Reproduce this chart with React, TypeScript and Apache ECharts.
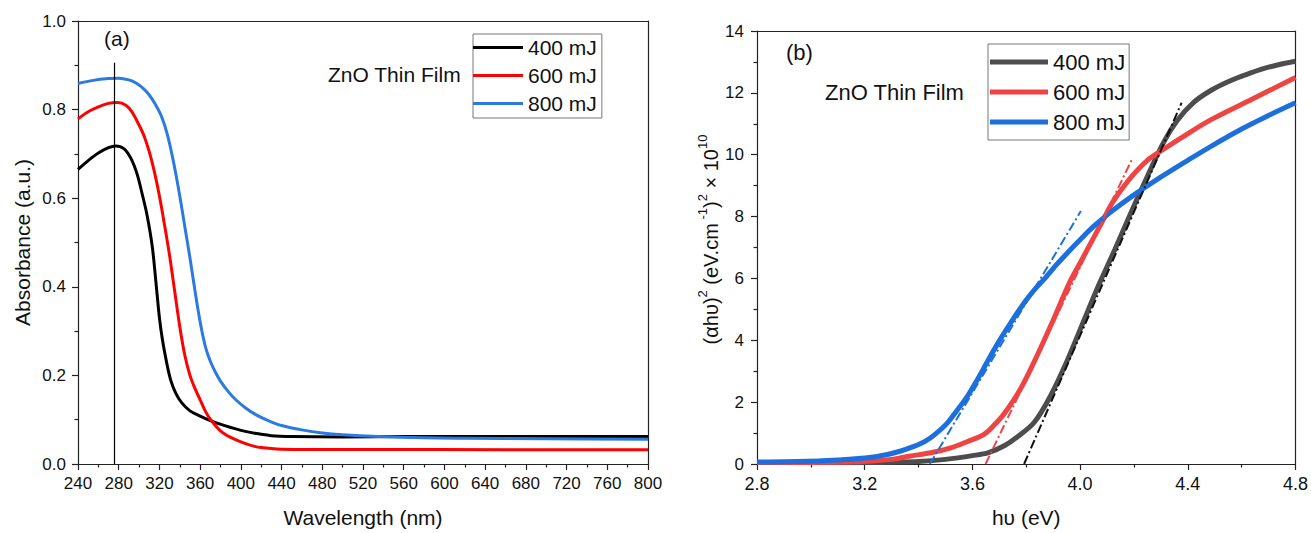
import React, { useEffect, useRef } from "react";
import * as echarts from "echarts";

// ---------- Panel (a): UV-Vis absorbance ----------
const waveA400 = [240, 250, 260, 270, 277, 285, 292, 298, 303, 308, 313, 317, 320, 323, 327, 331, 336, 342, 350, 360, 370, 385, 400, 415, 430, 450, 500, 560, 800];
const absA400 = [0.665, 0.685, 0.702, 0.714, 0.718, 0.712, 0.69, 0.655, 0.61, 0.56, 0.49, 0.4, 0.33, 0.28, 0.23, 0.19, 0.16, 0.138, 0.12, 0.108, 0.098, 0.086, 0.076, 0.069, 0.064, 0.062, 0.061, 0.062, 0.062];

const waveA600 = [240, 250, 260, 270, 279, 287, 293, 300, 305, 310, 315, 320, 325, 330, 335, 340, 345, 350, 355, 360, 365, 370, 380, 390, 400, 410, 420, 435, 460, 800];
const absA600 = [0.779, 0.795, 0.806, 0.814, 0.816, 0.81, 0.795, 0.765, 0.74, 0.705, 0.66, 0.605, 0.54, 0.47, 0.39, 0.31, 0.245, 0.2, 0.17, 0.145, 0.12, 0.101, 0.075, 0.06, 0.05, 0.042, 0.037, 0.034, 0.033, 0.032];

const waveA800 = [240, 255, 270, 280, 290, 297, 304, 310, 316, 322, 328, 334, 340, 345, 350, 354, 358, 362, 366, 370, 375, 380, 387, 395, 405, 415, 428, 440, 460, 480, 500, 535, 580, 620, 700, 800];
const absA800 = [0.859, 0.866, 0.87, 0.871, 0.867, 0.86, 0.848, 0.833, 0.812, 0.785, 0.742, 0.68, 0.605, 0.535, 0.465, 0.405, 0.347, 0.297, 0.258, 0.232, 0.207, 0.187, 0.165, 0.145, 0.126, 0.111, 0.097, 0.087, 0.077, 0.07, 0.066, 0.062, 0.059, 0.058, 0.057, 0.056];

const markerWave = 276;
const markerTop = 0.906;

// ---------- Panel (b): Tauc plot ----------
const evB400 = [2.8, 3.0, 3.2, 3.3, 3.4, 3.5, 3.6, 3.66, 3.72, 3.77, 3.83, 3.89, 3.95, 4.01, 4.07, 4.13, 4.19, 4.25, 4.31, 4.36, 4.42, 4.49, 4.56, 4.62, 4.7, 4.8];
const taucB400 = [0.05, 0.05, 0.05, 0.06, 0.08, 0.15, 0.27, 0.37, 0.6, 0.9, 1.35, 2.2, 3.3, 4.55, 5.8, 6.95, 8.15, 9.3, 10.4, 11.1, 11.68, 12.1, 12.4, 12.6, 12.83, 13.02];

const evB600 = [2.8, 3.0, 3.18, 3.3, 3.365, 3.45, 3.52, 3.58, 3.643, 3.68, 3.72, 3.78, 3.84, 3.9, 3.96, 4.0, 4.04, 4.08, 4.12, 4.16, 4.2, 4.25, 4.3, 4.38, 4.49, 4.64, 4.8];
const taucB600 = [0.05, 0.05, 0.07, 0.15, 0.25, 0.37, 0.52, 0.72, 0.96, 1.25, 1.65, 2.45, 3.5, 4.65, 5.85, 6.5, 7.15, 7.8, 8.45, 8.95, 9.38, 9.82, 10.12, 10.57, 11.15, 11.8, 12.5];

const evB800 = [2.8, 2.9, 3.06, 3.21, 3.28, 3.334, 3.38, 3.426, 3.46, 3.503, 3.54, 3.58, 3.62, 3.66, 3.7, 3.734, 3.77, 3.8, 3.83, 3.871, 3.91, 3.95, 4.0, 4.05, 4.11, 4.2, 4.295, 4.4, 4.48, 4.6, 4.7, 4.8];
const taucB800 = [0.065, 0.07, 0.11, 0.2, 0.3, 0.42, 0.56, 0.74, 0.95, 1.29, 1.7, 2.17, 2.75, 3.38, 3.98, 4.45, 4.93, 5.3, 5.63, 6.02, 6.42, 6.8, 7.25, 7.68, 8.12, 8.7, 9.25, 9.82, 10.24, 10.83, 11.27, 11.68];

// tangent (band-gap extrapolation) lines: [x0, y0, x1, y1]
const fit400 = [3.792, 0, 4.377, 11.68];
const fit600 = [3.649, 0, 4.192, 9.84];
const fit800 = [3.442, 0, 4.003, 8.18];

const seriesNames = ["400 mJ", "600 mJ", "800 mJ"];
const colorsA = ["#000000", "#ff0000", "#2a7ae2"];
const colorsB = ["#4d4d4d", "#ef4444", "#1c6fdc"];

const FONT = "Liberation Sans, Arial, sans-serif";
const AXIS_COLOR = "#222";

const zip = (xs: number[], ys: number[]) => xs.map((x, i) => [x, ys[i]]);
const seg = (f: number[]) => [[f[0], f[1]], [f[2], f[3]]];

function frameAxis(gridIndex: number, position: string, min: number, max: number) {
  return {
    type: "value",
    gridIndex,
    position,
    min,
    max,
    axisLine: { show: true, onZero: false, lineStyle: { color: AXIS_COLOR, width: 1.2 } },
    axisTick: { show: false },
    axisLabel: { show: false },
    splitLine: { show: false },
  };
}

export default function App() {
  const ref = useRef<HTMLDivElement>(null);

  useEffect(() => {
    document.body.style.margin = "0";
    if (!ref.current) return;
    const chart = echarts.init(ref.current, null, { renderer: "svg" });

    const tickCommon = {
      axisLine: { show: true, onZero: false, lineStyle: { color: AXIS_COLOR, width: 1.2 } },
      axisTick: { show: true, inside: false, length: 6, lineStyle: { color: AXIS_COLOR, width: 1.2 } },
      minorTick: { show: true, splitNumber: 2, length: 3.5, lineStyle: { color: AXIS_COLOR, width: 1.2 } },
      splitLine: { show: false },
      minorSplitLine: { show: false },
    };

    const lineSeries = (name: string, xi: number, data: number[][], color: string, width: number, extra: any = {}) => ({
      name,
      type: "line",
      xAxisIndex: xi,
      yAxisIndex: xi,
      data,
      showSymbol: false,
      smooth: 0.35,
      lineStyle: { color, width },
      itemStyle: { color },
      ...extra,
    });

    const option: any = {
      animation: false,
      backgroundColor: "#ffffff",
      textStyle: { fontFamily: FONT },
      grid: [
        { left: 78, top: 21, width: 570, height: 445 },
        { left: 757, top: 31, width: 539, height: 434 },
      ],
      xAxis: [
        {
          ...tickCommon,
          type: "value",
          gridIndex: 0,
          position: "bottom",
          min: 240,
          max: 800,
          interval: 40,
          axisLabel: { fontSize: 17, color: "#111", margin: 11, fontFamily: FONT },
          name: "Wavelength (nm)",
          nameLocation: "middle",
          nameGap: 43,
          nameTextStyle: { fontSize: 21, color: "#111", fontFamily: FONT },
        },
        frameAxis(0, "top", 240, 800),
        {
          ...tickCommon,
          type: "value",
          gridIndex: 1,
          position: "bottom",
          min: 2.8,
          max: 4.8,
          interval: 0.4,
          axisLabel: {
            fontSize: 18,
            color: "#111",
            margin: 11,
            fontFamily: FONT,
            formatter: (v: number) => v.toFixed(1),
          },
          name: "hυ (eV)",
          nameLocation: "middle",
          nameGap: 43,
          nameTextStyle: { fontSize: 21, color: "#111", fontFamily: FONT },
        },
        frameAxis(1, "top", 2.8, 4.8),
      ],
      yAxis: [
        {
          ...tickCommon,
          type: "value",
          gridIndex: 0,
          position: "left",
          min: 0,
          max: 1,
          interval: 0.2,
          axisLabel: {
            fontSize: 17,
            color: "#111",
            margin: 12,
            fontFamily: FONT,
            formatter: (v: number) => v.toFixed(1),
          },
          name: "Absorbance (a.u.)",
          nameLocation: "middle",
          nameRotate: 90,
          nameGap: 45,
          nameTextStyle: { fontSize: 21, color: "#111", fontFamily: FONT },
        },
        frameAxis(0, "right", 0, 1),
        {
          ...tickCommon,
          type: "value",
          gridIndex: 1,
          position: "left",
          min: 0,
          max: 14,
          interval: 2,
          axisLabel: { fontSize: 17, color: "#111", margin: 13, fontFamily: FONT },
          name: "{n|(αhυ)}{s|2}{n| (eV.cm}{s| -1}{n|)}{s|2}{n| × 10}{s|10}",
          nameLocation: "middle",
          nameRotate: 90,
          nameGap: 28,
          nameTextStyle: {
            color: "#111",
            fontFamily: FONT,
            padding: [0, 0, 0, 16],
            rich: {
              n: { fontSize: 20, lineHeight: 30, color: "#111", fontFamily: FONT },
              s: { fontSize: 13, lineHeight: 12, verticalAlign: "top", color: "#111", fontFamily: FONT },
            },
          },
        },
        frameAxis(1, "right", 0, 14),
      ],
      legend: [
        {
          left: 473,
          top: 34,
          orient: "vertical",
          borderColor: "#777",
          borderWidth: 1,
          padding: [3, 5, 4, 0],
          itemWidth: 50,
          itemHeight: 3,
          itemGap: 7,
          icon: "rect",
          selectedMode: false,
          textStyle: { fontSize: 21, lineHeight: 20, color: "#111", fontFamily: FONT },
          data: seriesNames.map((n, i) => ({ name: n, itemStyle: { color: colorsA[i] } })),
        },
        {
          left: 988,
          top: 44,
          orient: "vertical",
          borderColor: "#777",
          borderWidth: 1,
          padding: [7, 4, 7, 2],
          itemWidth: 58,
          itemHeight: 5,
          itemGap: 8,
          icon: "rect",
          selectedMode: false,
          textStyle: { fontSize: 22, lineHeight: 22, color: "#111", fontFamily: FONT },
          data: seriesNames.map((n, i) => ({ name: n, itemStyle: { color: colorsB[i] } })),
        },
      ],
      graphic: [
        { type: "text", left: 104, top: 28, style: { text: "(a)", fontSize: 21, fill: "#111", fontFamily: FONT } },
        { type: "text", left: 328, top: 64, style: { text: "ZnO Thin Film", fontSize: 21, fill: "#111", fontFamily: FONT } },
        { type: "text", left: 786, top: 41, style: { text: "(b)", fontSize: 22, fill: "#111", fontFamily: FONT } },
        { type: "text", left: 825, top: 81, style: { text: "ZnO Thin Film", fontSize: 22, fill: "#111", fontFamily: FONT } },
      ],
      series: [
        lineSeries(seriesNames[0], 0, zip(waveA400, absA400), colorsA[0], 3, {
          markLine: {
            silent: true,
            symbol: "none",
            label: { show: false },
            lineStyle: { color: "#000", width: 1.2, type: "solid" },
            data: [[{ coord: [markerWave, 0] }, { coord: [markerWave, markerTop] }]],
          },
        }),
        lineSeries(seriesNames[1], 0, zip(waveA600, absA600), colorsA[1], 3),
        lineSeries(seriesNames[2], 0, zip(waveA800, absA800), colorsA[2], 3),
        lineSeries(seriesNames[0], 2, zip(evB400, taucB400), colorsB[0], 5),
        lineSeries(seriesNames[1], 2, zip(evB600, taucB600), colorsB[1], 5),
        lineSeries(seriesNames[2], 2, zip(evB800, taucB800), colorsB[2], 5),
        ...[fit400, fit600, fit800].map((f, i) => ({
          name: "fit " + seriesNames[i],
          type: "line",
          xAxisIndex: 2,
          yAxisIndex: 2,
          data: seg(f),
          showSymbol: false,
          lineStyle: { color: i === 0 ? "#111" : colorsB[i], width: 2, type: [9, 3, 2, 3] },
          itemStyle: { color: i === 0 ? "#111" : colorsB[i] },
          z: 5,
        })),
      ],
    };

    chart.setOption(option);
    return () => chart.dispose();
  }, []);

  return <div ref={ref} style={{ width: 1311, height: 533 }} />;
}
